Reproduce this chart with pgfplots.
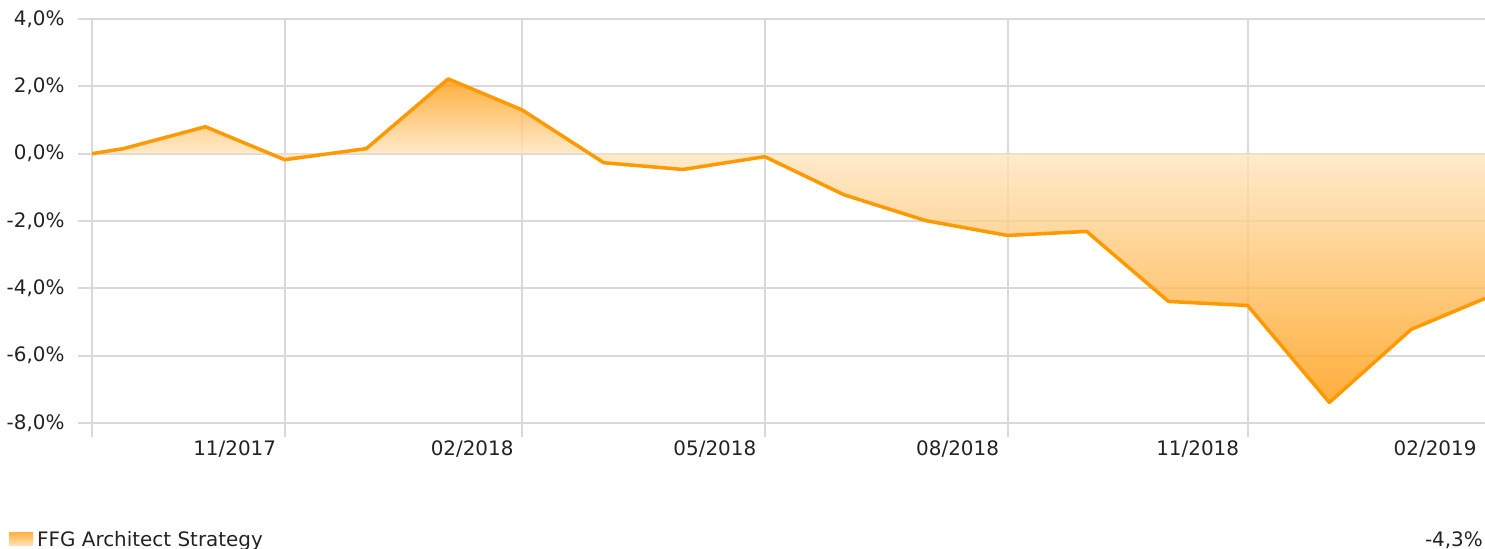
\documentclass[border=0pt]{standalone}
\usepackage{pgfplots}
\pgfplotsset{compat=1.18}
\usepackage{fontspec}
\setmainfont{DejaVu Sans}
\definecolor{gridgray}{HTML}{D9D9D9}
\definecolor{lineor}{HTML}{FF9900}
\definecolor{fillpale}{HTML}{FFE5BE}
\definecolor{filldeep}{HTML}{FF9A0A}
\definecolor{txt}{HTML}{222222}
\begin{document}
\begin{tikzpicture}[x=1bp,y=1bp]
\useasboundingbox (0,0) rectangle (1485,549);
\begin{axis}[
  at={(92bp,126bp)}, anchor=south west,
  scale only axis, width=1393bp, height=404bp,
  xmin=-73, xmax=455, ymin=-8, ymax=4,
  axis line style={draw=none},
  xtick={-73,0,90,182,274,365},
  xticklabels={,11/2017,02/2018,05/2018,08/2018,11/2018},
  extra x ticks={455},
  extra x tick labels={02/2019},
  extra x tick style={grid=none, major tick style={draw=none}},
  ytick={-8,-6,-4,-2,0,2,4},
  yticklabels={{-8,0\%},{-6,0\%},{-4,0\%},{-2,0\%},{0,0\%},{2,0\%},{4,0\%}},
  xtick pos=bottom, ytick pos=left,
  grid=major,
  major grid style={draw=gridgray, line width=2bp},
  tick align=outside, major tick length=14bp,
  every tick/.style={draw=gridgray, line width=2bp},
  ticklabel style={font=\fontsize{20}{24}\selectfont, text=txt},
  xticklabel style={anchor=north east, xshift=-5bp},
  yticklabel style={anchor=east, xshift=-10bp},
]
\addplot[draw=none, mark=none, top color=filldeep, bottom color=fillpale, fill opacity=0.8] coordinates {
(-73,0) (-61,0.15) (-30,0.80) (-5.51,0) (16.91,0) (31,0.15) (62,2.22) (90,1.30) (115.67,0)
};
\addplot[draw=none, mark=none, top color=fillpale, bottom color=filldeep, fill opacity=0.8] coordinates {
(-5.51,0) (0,-0.18) (16.91,0) (115.67,0) (121,-0.27) (151,-0.47) (182,-0.09) (212,-1.22)
(243,-1.99) (274,-2.43) (304,-2.31) (335,-4.39) (365,-4.51) (396,-7.39) (427,-5.22) (455,-4.30) (455,0)
};
\addplot[lineor, line width=3.5bp, line join=round, mark=none] coordinates {
(-73,0.00) (-61,0.15) (-30,0.80) (0,-0.18) (31,0.15) (62,2.22) (90,1.30) (121,-0.27)
(151,-0.47) (182,-0.09) (212,-1.22) (243,-1.99) (274,-2.43) (304,-2.31) (335,-4.39)
(365,-4.51) (396,-7.39) (427,-5.22) (455,-4.30)
};
\end{axis}
\fill[top color=filldeep!75!white, bottom color=fillpale] (9,3) rectangle (33,16);
\node[anchor=base west, inner sep=0, font=\fontsize{20}{24}\selectfont, text=txt] at (37,2.5) {FFG Architect Strategy};
\node[anchor=base east, inner sep=0, font=\fontsize{20}{24}\selectfont, text=txt] at (1483,2.5) {-4,3\%};
\end{tikzpicture}
\end{document}
